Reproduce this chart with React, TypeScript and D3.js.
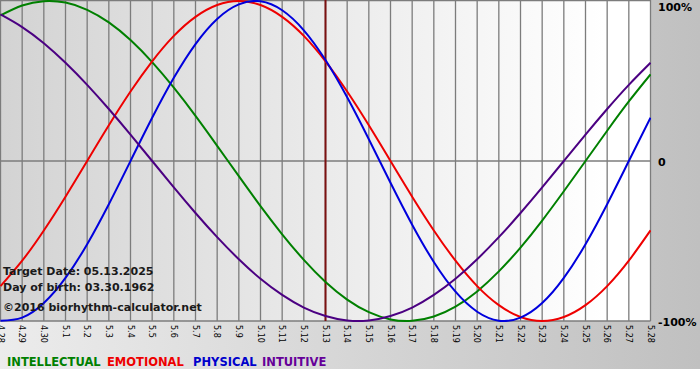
import React from "react";
import * as d3 from "d3";

const dayLabels = [
  "4.28", "4.29", "4.30", "5.1", "5.2", "5.3", "5.4", "5.5", "5.6", "5.7", "5.8",
  "5.9", "5.10", "5.11", "5.12", "5.13", "5.14", "5.15", "5.16", "5.17", "5.18",
  "5.19", "5.20", "5.21", "5.22", "5.23", "5.24", "5.25", "5.26", "5.27", "5.28",
];

const intellectual = [
  0.91, 0.972, 0.999, 0.99, 0.945, 0.866, 0.756, 0.618, 0.458, 0.282, 0.095,
  -0.095, -0.282, -0.458, -0.618, -0.756, -0.866, -0.945, -0.99, -0.999, -0.972,
  -0.91, -0.815, -0.69, -0.541, -0.372, -0.189, 0, 0.189, 0.372, 0.541,
];

const emotional = [
  -0.782, -0.623, -0.434, -0.223, 0, 0.223, 0.434, 0.623, 0.782, 0.901, 0.975,
  1, 0.975, 0.901, 0.782, 0.623, 0.434, 0.223, 0, -0.223, -0.434,
  -0.623, -0.782, -0.901, -0.975, -1, -0.975, -0.901, -0.782, -0.623, -0.434,
];

const physical = [
  -0.998, -0.979, -0.888, -0.731, -0.52, -0.27, 0, 0.27, 0.52, 0.731, 0.888,
  0.979, 0.998, 0.942, 0.817, 0.631, 0.398, 0.136, -0.136, -0.398, -0.631,
  -0.817, -0.942, -0.998, -0.979, -0.888, -0.731, -0.52, -0.27, 0, 0.27,
];

const intuitive = [
  0.916, 0.837, 0.736, 0.614, 0.476, 0.325, 0.165, 0, -0.165, -0.325, -0.476,
  -0.614, -0.736, -0.837, -0.916, -0.969, -0.997, -0.997, -0.969, -0.916, -0.837,
  -0.736, -0.614, -0.476, -0.325, -0.165, 0, 0.165, 0.325, 0.476, 0.614,
];

const yTicks = [1, 0, -1];
const yTickLabels = ["100%", "0", "-100%"];
const targetIndex = 15;

const seriesNames = ["INTELLECTUAL", "EMOTIONAL", "PHYSICAL", "INTUITIVE"];
const seriesData = [intellectual, emotional, physical, intuitive];
const seriesColors = ["#008000", "#ee0000", "#0000dd", "#4b0082"];
const legendColors = ["#008000", "#ee0000", "#0000cc", "#660099"];
const legendX = [7, 107, 193, 262];

const infoLines = ["Target Date: 05.13.2025", "Day of birth: 03.30.1962", "©2016 biorhythm-calculator.net"];

export default function App() {
  const W = 700;
  const H = 380;
  const x = d3.scaleLinear().domain([0, dayLabels.length - 1]).range([0.5, 650.5]);
  const y = d3.scaleLinear().domain([-1, 1]).range([321, 1]);
  const line = d3
    .line<number>()
    .x((_, i) => x(i))
    .y((v) => y(v))
    .curve(d3.curveNatural);

  const font = "'DejaVu Sans', Verdana, sans-serif";

  return (
    <svg
      width={W}
      height={H}
      style={{ position: "fixed", left: 0, top: 0, background: "#ffffff" }}
      fontFamily={font}
    >
      <defs>
        <linearGradient id="outerBg" x1="0" x2="1" y1="0" y2="0">
          <stop offset="0" stopColor="#ececec" />
          <stop offset="1" stopColor="#c0c0c0" />
        </linearGradient>
        <linearGradient id="plotBg" x1="0" x2="1" y1="0" y2="0">
          <stop offset="0" stopColor="#d3d3d3" />
          <stop offset="0.93" stopColor="#ffffff" />
          <stop offset="1" stopColor="#ffffff" />
        </linearGradient>
        <clipPath id="plotClip">
          <rect x={0} y={0} width={651} height={322} />
        </clipPath>
      </defs>
      <rect x={0} y={0} width={W} height={369} fill="url(#outerBg)" />
      <rect x={0} y={y(1)} width={x(dayLabels.length - 1)} height={y(-1) - y(1)} fill="url(#plotBg)" />

      {dayLabels.map((d, i) => (
        <line key={"g" + i} x1={x(i)} x2={x(i)} y1={0} y2={y(-1)} stroke="#7c7c7c" strokeWidth={1.3} />
      ))}
      {yTicks.map((t, i) => (
        <line key={"h" + i} x1={0} x2={x(dayLabels.length - 1)} y1={y(t) - (t === 1 ? 0.5 : 0)} y2={y(t) - (t === 1 ? 0.5 : 0)} stroke="#7c7c7c" strokeWidth={1.3} />
      ))}

      <line x1={x(targetIndex)} x2={x(targetIndex)} y1={0} y2={y(-1)} stroke="#7a1010" strokeWidth={2} />

      <g clipPath="url(#plotClip)">
        {seriesData.map((s, i) => (
          <path key={"s" + i} d={line(s) || ""} fill="none" stroke={seriesColors[i]} strokeWidth={2} />
        ))}
      </g>

      {dayLabels.map((d, i) => (
        <text
          key={"t" + i}
          transform={`translate(${x(i)},325) rotate(90)`}
          dy="0.35em"
          fontSize={8}
          fill="#000"
        >
          {d}
        </text>
      ))}

      {yTicks.map((t, i) => (
        <text
          key={"yl" + i}
          x={658}
          y={t === 1 ? 11 : y(t) + 4.5}
          fontSize={11}
          fontWeight="bold"
          fill="#000"
        >
          {yTickLabels[i]}
        </text>
      ))}

      {infoLines.map((l, i) => (
        <text key={"i" + i} x={3} y={[275, 291, 311][i]} fontSize={11} fontWeight="bold" fill="#1a1a1a">
          {l}
        </text>
      ))}

      {seriesNames.map((n, i) => (
        <text key={"l" + i} x={legendX[i]} y={366} fontSize={11.5} fontWeight="bold" fill={legendColors[i]}>
          {n}
        </text>
      ))}
    </svg>
  );
}
